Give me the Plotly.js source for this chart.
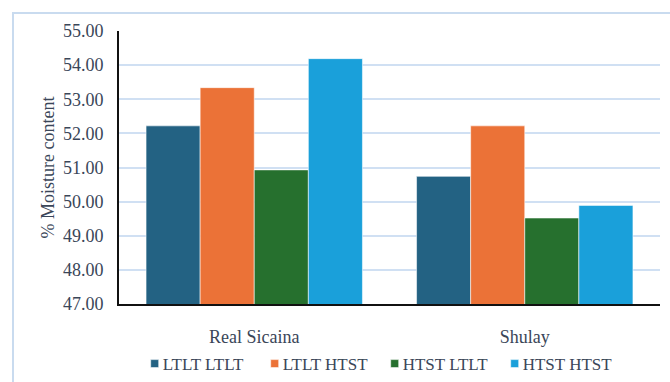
<!DOCTYPE html>
<html>
<head>
<meta charset="utf-8">
<script src="https://cdn.plot.ly/plotly-3.0.1.min.js"></script>
<style>
  html, body { margin: 0; padding: 0; background: #ffffff; overflow: hidden; }
  #wrap { position: relative; width: 670px; height: 382px; }
  #frame { position: absolute; left: 12px; top: 12px; width: 700px; height: 400px;
           border-left: 2px solid #c9dbef; border-top: 2px solid #c9dbef; box-sizing: border-box; }
  #chart { position: absolute; left: 0; top: 0; width: 670px; height: 382px; }
</style>
</head>
<body>
<div id="wrap">
  <div id="frame"></div>
  <div id="chart"></div>
</div>
<script>
// Moisture content (%) by cultivar and heat-treatment combination
const categories = ['Real Sicaina', 'Shulay'];
const seriesNames = ['LTLT LTLT', 'LTLT HTST', 'HTST LTLT', 'HTST HTST'];
const ltltLtlt = [52.22, 50.74];
const ltltHtst = [53.34, 52.22];
const htstLtlt = [50.93, 49.52];
const htstHtst = [54.19, 49.89];
const tickValues = [47, 48, 49, 50, 51, 52, 53, 54, 55];

const seriesValues = [ltltLtlt, ltltHtst, htstLtlt, htstHtst];
const seriesColors = ['#236283', '#eb7237', '#26702e', '#1aa0da'];

const textColor = '#3a4658';
const serif = "'Liberation Serif', 'Times New Roman', serif";

const traces = seriesNames.map((name, i) => ({
  type: 'bar',
  name: name,
  x: categories,
  y: seriesValues[i],
  marker: { color: seriesColors[i], line: { color: 'rgba(255,255,255,0.55)', width: 1 } },
  hoverinfo: 'x+y+name'
}));

const layout = {
  width: 670,
  height: 382,
  margin: { l: 119, r: 10, t: 31, b: 78 },
  paper_bgcolor: 'rgba(0,0,0,0)',
  plot_bgcolor: 'rgba(0,0,0,0)',
  barmode: 'group',
  bargap: 0.2,
  bargroupgap: 0,
  font: { family: serif, color: textColor, size: 18 },
  showlegend: true,
  legend: {
    orientation: 'h',
    x: 0.029, xanchor: 'left',
    yref: 'container',
    y: 0.047, yanchor: 'middle',
    font: { family: serif, size: 17, color: textColor },
    entrywidth: 75,
    entrywidthmode: 'pixels',
    traceorder: 'normal'
  },
  xaxis: {
    showgrid: false,
    showline: true,
    linecolor: '#111111',
    linewidth: 2,
    ticks: '',
    ticklabelstandoff: 15,
    tickfont: { family: serif, size: 18, color: textColor },
    fixedrange: true
  },
  yaxis: {
    range: [47, 55],
    tickvals: tickValues,
    tickformat: '.2f',
    showgrid: true,
    gridcolor: '#d0e0f3',
    gridwidth: 2,
    zeroline: false,
    showline: true,
    linecolor: '#111111',
    linewidth: 2,
    ticks: '',
    ticklabelstandoff: 10,
    tickfont: { family: serif, size: 18, color: textColor },
    title: { text: '% Moisture content', font: { family: serif, size: 18, color: textColor }, standoff: 4 },
    automargin: false,
    fixedrange: true
  }
};

// smaller square swatches sitting close to their labels
function tidyLegend(gd) {
  gd.querySelectorAll('.legend .traces').forEach(tr => {
    tr.querySelectorAll('.legendpoints path').forEach(p => p.setAttribute('d', 'M4,4H-4V-4H4Z'));
    const t = tr.querySelector('.legendtext');
    if (t) t.setAttribute('x', 28);
  });
}

Plotly.newPlot('chart', traces, layout, { displayModeBar: false, staticPlot: true }).then(tidyLegend);
</script>
</body>
</html>
